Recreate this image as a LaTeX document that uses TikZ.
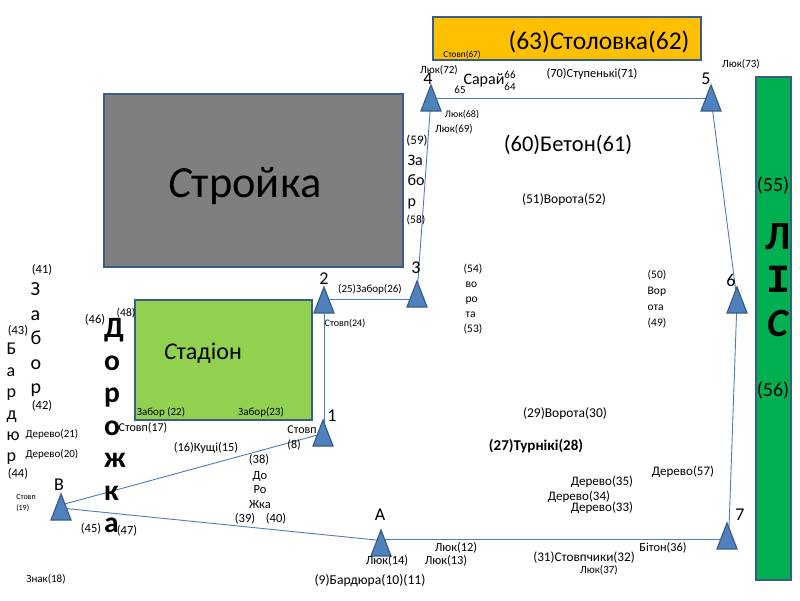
\documentclass[tikz,border=0pt]{standalone}
\usepackage{fontspec}
\setmainfont{Carlito}
\newfontfamily\serifI{Liberation Mono}
\usetikzlibrary{shapes.geometric,backgrounds}
\definecolor{bordblue}{HTML}{385D8A}
\definecolor{triblue}{HTML}{4F81BD}
\definecolor{lineblue}{HTML}{4A7EBB}
\definecolor{greyfill}{HTML}{7F7F7F}
\definecolor{stadgreen}{HTML}{92D050}
\definecolor{stolorange}{HTML}{FFC000}
\definecolor{forestgreen}{HTML}{00B050}
\tikzset{
  tri/.style={isosceles triangle, isosceles triangle apex angle=42, isosceles triangle stretches, shape border rotate=90, minimum width=20pt, minimum height=26pt, inner sep=0pt, outer sep=0pt, anchor=apex, draw=bordblue, line width=1.2pt, fill=triblue},
  link/.style={draw=lineblue, line width=0.9pt},
  area/.style={draw=bordblue, line width=2pt, inner sep=0pt, outer sep=0pt, anchor=north west, text=black},
  sz/.style={inner sep=0pt, outer sep=0pt, align=center, yshift=-1pt, font=\fontsize{#1}{#1}\selectfont},
  stack/.style 2 args={inner sep=0pt, outer sep=0pt, align=left, yshift=-1pt, font=\fontsize{#1}{#2}\selectfont},
}
\begin{document}
\begin{tikzpicture}[x=1pt,y=-1pt]
\useasboundingbox (0,0) rectangle (800,600);
% areas
\node[area, fill=greyfill, minimum width=299pt, minimum height=173pt] (stroyka) at (104,94) {};
\node[area, fill=stadgreen, minimum width=177pt, minimum height=120pt] (stadion) at (135,300) {};
\node[area, fill=stolorange, minimum width=268pt, minimum height=43pt] (stolovka) at (433,17) {};
\node[area, fill=forestgreen, minimum width=35pt, minimum height=503pt] (lis) at (756,77) {};
% triangles
\node[tri] (tB) at (61,494) {};
\node[tri] (tA) at (381,530) {};
\node[tri] (t1) at (323,420) {};
\node[tri] (t2) at (324,287) {};
\node[tri] (t3) at (417,281) {};
\node[tri] (t4) at (431,85) {};
\node[tri] (t5) at (711,85) {};
\node[tri] (t6) at (737,287) {};
\node[tri] (t7) at (727,523) {};
% connectors
\begin{pgfonlayer}{background}
\draw[link] ([yshift=-11pt]tB.apex) -- ([yshift=-13.5pt]t1.apex);
\draw[link] ([yshift=-14pt]tB.apex) -- ([yshift=-10.5pt]tA.apex);
\draw[link] ([yshift=-9.5pt]tA.apex) -- ([yshift=-16.5pt]t7.apex);
\draw[link] ([xshift=2pt,yshift=-5pt]t7.apex) -- ([yshift=-13pt]t6.apex);
\draw[link] ([yshift=-13pt]t6.apex) -- ([yshift=-13pt]t5.apex);
\draw[link] ([yshift=-13pt]t5.apex) -- ([yshift=-13pt]t4.apex);
\draw[link] ([yshift=-13pt]t4.apex) -- ([yshift=-13pt]t3.apex);
\draw[link] ([yshift=-18pt]t3.apex) -- ([yshift=-12pt]t2.apex);
\draw[link] ([yshift=-13pt]t2.apex) -- ([xshift=1pt,yshift=-13pt]t1.apex);
\end{pgfonlayer}
% big labels
\node[sz=44.5] (l1) at (245,185) {{\itshape С}тройка};
\node[sz=24] (l2) at (203,352) {{\itshape С}тадіон};
\node[sz=25.5] (l3) at (599,41) {(63){\itshape С}толовка(62)};
\node[sz=22.5] (l4) at (568,144) {(60)Бетон(61)};
\node[stack={40}{43.5},align=center,font=\bfseries\fontsize{40}{43.5}\selectfont] (l5) at (778,279) {Л\\{\serifI І}\\{\itshape С}};
\node[stack={29.5}{32.5},font=\bfseries\fontsize{29.5}{32.5}\selectfont] (l6) at (115,425) {Д\\о\\р\\о\\ж\\к\\а};
\node[sz=20] (l7) at (773,185) {(55)};
\node[sz=20] (l8) at (773,390) {(56)};
% triangle letters
\node[sz=18] (a1) at (332,415) {1};
\node[sz=18] (a2) at (324,278) {2};
\node[sz=18] (a3) at (416,267) {3};
\node[sz=18] (a4) at (428,78) {4};
\node[sz=18] (a5) at (706,78) {5};
\node[sz=18] (a6) at (731,279) {6};
\node[sz=18] (a7) at (740,514) {7};
\node[sz=18] (aA) at (380,514) {А};
\node[sz=18] (aB) at (59,484) {В};
% left stacks
\node[sz=12.5] (n41) at (42,269) {(41)};
\node[stack={20}{24.5}] (n3a) at (36,339) {З\\а\\б\\о\\р};
\node[sz=12.5] (n42) at (42,405) {(42)};
\node[sz=12.5] (n43) at (18,330) {(43)};
\node[stack={18}{21.4}] (n3b) at (13,403) {Б\\а\\р\\д\\ю\\р};
\node[sz=12.5] (n44) at (18,473) {(44)};
\node[sz=11] (n21) at (52,433) {Дерево(21)};
\node[sz=11] (n20) at (52,453) {Дерево(20)};
\node[sz=12.5] (n46) at (95,319) {(46)};
\node[sz=11.5] (n48) at (126,312) {(48)};
\node[sz=12] (n17) at (143,427) {Стовп(17)};
\node[sz=11] (n22) at (161,411) {Забор (22)};
\node[sz=11] (n23) at (261,411) {Забор(23)};
\node[sz=12.4] (n16) at (206,447) {(16)Кущі(15)};
\node[stack={12}{15}] (n8) at (302,437) {Стовп\\(8)};
\node[sz=12.5] (n38) at (259,459) {(38)};
\node[stack={12.5}{14.2},align=center] (n38b) at (260,489) {До\\Ро\\Жка};
\node[sz=12.5] (n39) at (245,518) {(39)};
\node[sz=12.5] (n40) at (276,518) {(40)};
\node[stack={8}{11}] (n19) at (26,502) {Стовп\\(19)};
\node[sz=12.5] (n45) at (91,528) {(45)};
\node[sz=12.5] (n47) at (127,530) {(47)};
\node[sz=11] (n18) at (46,578) {Знак(18)};
\node[sz=13.6] (n9) at (370,580) {(9)Бардюра(10)(11)};
% bottom right
\node[sz=12.4] (n14) at (387,560) {Люк(14)};
\node[sz=12.4] (n12) at (456,547) {Люк(12)};
\node[sz=12.4] (n13) at (446,560) {Люк(13)};
\node[sz=13.2] (n31) at (584,557) {(31)Стовпчики(32)};
\node[sz=11] (n37) at (599,569) {Люк(37)};
\node[sz=12.3] (n36) at (663,547) {Бітон(36)};
\node[sz=13] (n57) at (683,471) {Дерево(57)};
\node[sz=13] (n35) at (602,481) {Дерево(35)};
\node[sz=13] (n34) at (579,496) {Дерево(34)};
\node[sz=13] (n33) at (602,507) {Дерево(33)};
\node[sz=13.5] (n29) at (565,413) {(29)Ворота(30)};
\node[sz=15,font=\bfseries\fontsize{15}{15}\selectfont] (n27) at (536,445) {(27)Турнікі(28)};
% top
\node[sz=9.2] (n67) at (462,54) {Стовп(67)};
\node[sz=11] (n72) at (439,69) {Люк(72)};
\node[sz=16] (n63) at (484,79) {Сарай};
\node[sz=11] (n66) at (510,74) {66};
\node[sz=11] (n64) at (510,86) {64};
\node[sz=11] (n65) at (460,89) {65};
\node[sz=12.4] (n70) at (592,73) {(70)Ступенькі(71)};
\node[sz=11] (n73) at (741,63) {Люк(73)};
\node[sz=10] (n68) at (462,114) {Люк(68)};
\node[sz=11] (n69) at (454,128) {Люк(69)};
\node[sz=13] (n59) at (417,140) {(59)};
\node[stack={16}{20.5}] (nZ) at (416,181) {За\\бо\\р};
\node[sz=11.5] (n58) at (416,219) {(58)};
\node[sz=13.5] (n51) at (564,199) {(51)Ворота(52)};
\node[stack={11.5}{14.8}] (n54) at (473,298) {(54)\\\,во\\\,ро\\\,та\\(53)};
\node[stack={11.5}{16}] (n50) at (657,298) {(50)\\Вор\\ота\\(49)};
\node[sz=11] (n25) at (370,288) {(25)Забор(26)};
\node[sz=10] (n24) at (345,323) {Стовп(24)};
\end{tikzpicture}
\end{document}
